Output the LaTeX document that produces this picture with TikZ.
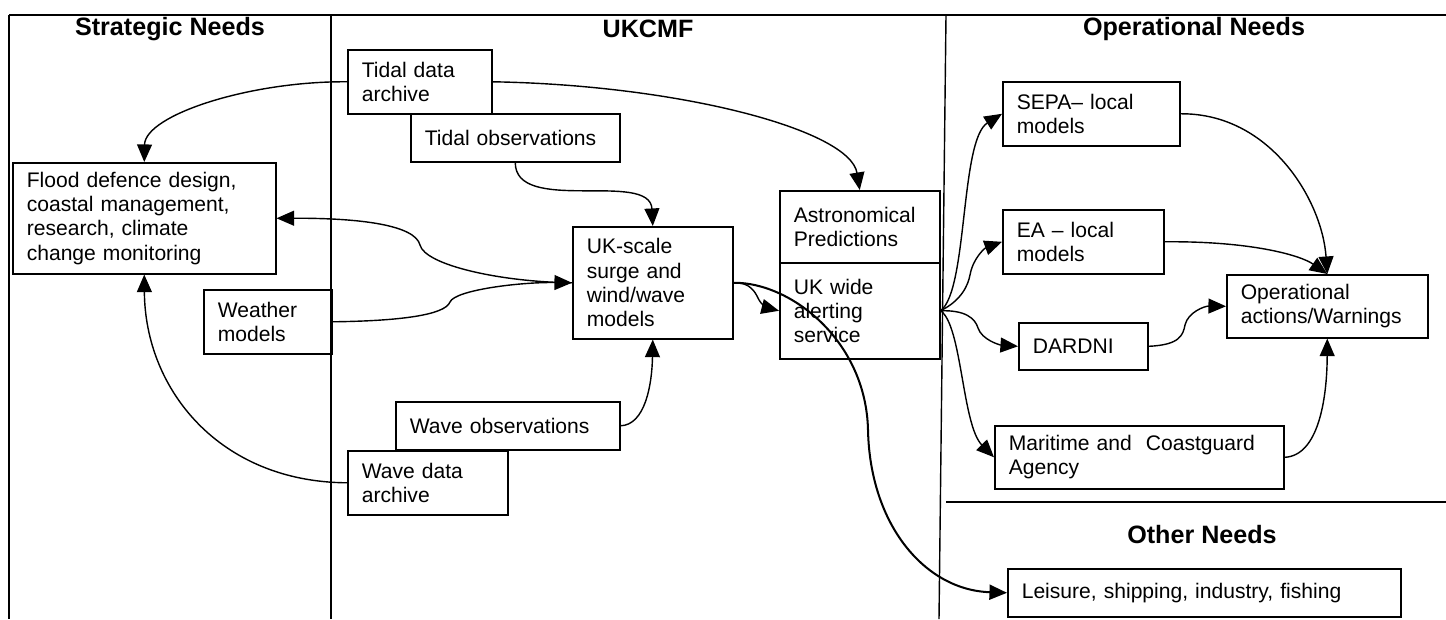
\documentclass[tikz,border=0pt]{standalone}
\usepackage{fontspec}
\setmainfont{Liberation Sans}
\usetikzlibrary{arrows.meta}
\begin{document}
\begin{tikzpicture}[x=0.02cm,y=-0.02cm,
  bx/.style n args={3}{draw, line width=0.9pt, rectangle, anchor=north west,
    inner xsep=0.28cm, inner ysep=0pt, align=left,
    font=\fontsize{12}{13.8}\selectfont,
    minimum width=#1cm, minimum height=#2cm, text width=#3cm},
  head/.style={font=\fontsize{14.3}{16}\selectfont\bfseries, inner sep=0pt},
  frame/.style={line width=0.8pt},
  conn/.style={line width=0.8pt, -{Triangle[length=10pt,width=8.5pt]}},
  thickconn/.style={line width=1.15pt, -{Triangle[length=10pt,width=8.5pt]}}]
\useasboundingbox (0,0) rectangle (1446,619);

% frame
\draw[frame] (9,15) -- (1446,15);
\draw[frame] (9,15) -- (9,619);
\draw[frame] (331,15) -- (331,619);
\draw[frame] (946,15) -- (939,619);
\draw[frame] (946,502) -- (1446,502);

% headings
\node[head] (h1) at (170,29) {Strategic Needs};
\node[head] (h2) at (648,29) {UKCMF};
\node[head] (h3) at (1194,29) {Operational Needs};
\node[head] (h4) at (1202,535) {Other Needs};

% boxes
\node[bx={2.88}{1.28}{2.32}] (tarch) at (347,49) {Tidal data\\archive};
\node[bx={4.18}{0.96}{3.62}] (tobs) at (410,113) {Tidal observations};
\node[bx={5.26}{2.22}{4.70}] (flood) at (12,162) {Flood defence design,\\coastal management,\\research, climate\\change monitoring};
\node[bx={2.56}{1.28}{2.00}] (weather) at (203,289) {Weather\\models};
\node[bx={3.20}{2.24}{2.64}] (uks) at (572,226) {UK-scale\\surge and\\wind/wave\\models};
\node[bx={3.20}{1.44}{2.64}] (astro) at (779,190) {Astronomical\\Predictions};
\node[bx={3.20}{1.92}{2.64}] (alert) at (779,262) {UK wide\\alerting\\service};
\node[bx={4.48}{0.96}{3.92}] (wobs) at (395,401) {Wave observations};
\node[bx={3.20}{1.28}{2.64}] (warch) at (347,450) {Wave data\\archive};
\node[bx={3.54}{1.28}{2.98}] (sepa) at (1002,81) {SEPA– local\\models};
\node[bx={3.22}{1.28}{2.66}] (ea) at (1002,209) {EA – local\\models};
\node[bx={4.02}{1.26}{3.46}] (op) at (1226,274) {Operational\\actions/Warnings};
\node[bx={2.58}{0.94}{2.02}] (dardni) at (1018,322) {DARDNI};
\node[bx={5.78}{1.26}{5.22}] (mar) at (994,425) {Maritime and~ Coastguard\\Agency};
\node[bx={7.86}{0.96}{7.30}] (leis) at (1007,568) {Leisure, shipping, industry, fishing};

% connectors
\draw[conn] (tarch.west) .. controls (250,81) and (145,115) .. (flood.north);
\draw[conn] (tarch.east) .. controls (680,85) and (850,130) .. (astro.north);
\draw[conn] (tobs.south) .. controls (515,215) and (650,170) .. (uks.north);
\draw[conn] (uks.west) .. controls (500,282) and (425,265) .. (420,245)
  .. controls (415,225) and (360,218) .. (flood.east);
\draw[conn] (weather.east) .. controls (400,321) and (445,315) .. (450,302)
  .. controls (455,290) and (520,282) .. (uks.west);
\draw[conn] (warch.west) .. controls (220,482) and (145,390) .. (flood.south);
\draw[conn] (wobs.east) .. controls (645,425) and (652,385) .. (uks.south);
\draw[conn] (uks.east) .. controls (750,282) and (755,292) .. (758,298)
  .. controls (761,305) and (768,308) .. (alert.west);
\draw[thickconn] (uks.east) .. controls (790,282) and (866,340) .. (868,430)
  .. controls (870,525) and (925,590) .. (leis.west);
\draw[conn] (alert.east) .. controls (968,290) and (960,140) .. (sepa.west);
\draw[conn] (alert.east) .. controls (962,300) and (968,285) .. (970,275)
  .. controls (973,258) and (985,248) .. (ea.west);
\draw[conn] (alert.east) .. controls (965,310) and (975,318) .. (978,328)
  .. controls (982,340) and (1000,345) .. (dardni.west);
\draw[conn] (alert.east) .. controls (962,325) and (962,425) .. (mar.west);
\draw[conn] (sepa.east) .. controls (1270,113) and (1322,200) .. (op.north);
\draw[conn] (ea.east) .. controls (1250,241) and (1300,255) .. (op.north);
\draw[conn] (dardni.east) .. controls (1180,345) and (1183,335) .. (1185,325)
  .. controls (1188,312) and (1205,306) .. (op.west);
\draw[conn] (mar.east) .. controls (1318,456) and (1327,400) .. (op.south);
\end{tikzpicture}
\end{document}
